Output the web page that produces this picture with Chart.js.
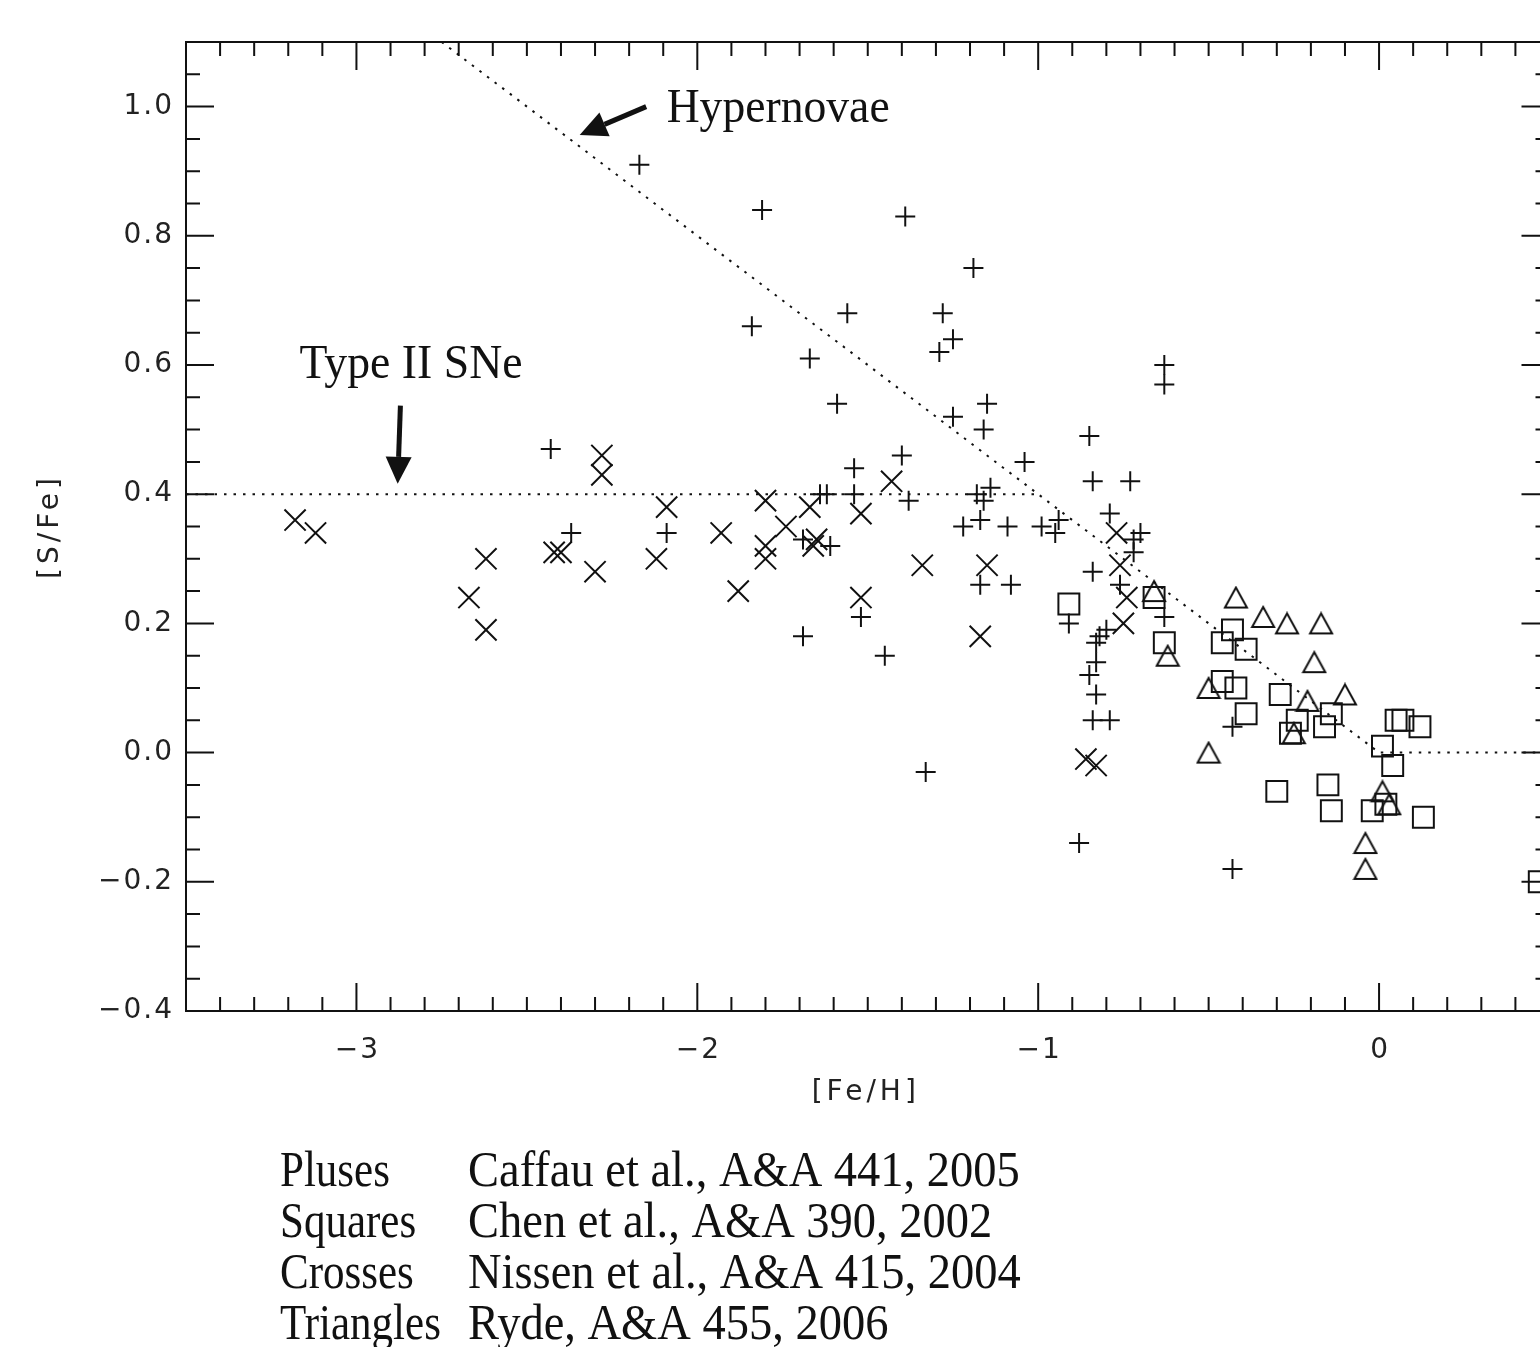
<!DOCTYPE html>
<html>
<head>
<meta charset="utf-8">
<script src="https://cdn.jsdelivr.net/npm/chart.js@4.4.1/dist/chart.umd.min.js"></script>
<style>
  html, body { margin: 0; padding: 0; background: #fff; overflow: hidden; }
  #wrap { position: relative; width: 1600px; height: 1347px; }
</style>
</head>
<body>
<div id="wrap"><canvas id="sfe-chart" width="1600" height="1347"></canvas></div>
<script>
// [S/Fe] vs [Fe/H] scatter, IDL-style frame with inward ticks

// [Fe/H], [S/Fe] pairs
const caffauPluses = [
  [-2.17, 0.91], [-1.81, 0.84], [-1.39, 0.83], [-1.19, 0.75], [-1.84, 0.66],
  [-1.56, 0.68], [-1.28, 0.68], [-1.25, 0.64], [-1.29, 0.62], [-1.67, 0.61],
  [-0.63, 0.60], [-0.63, 0.57], [-1.59, 0.54], [-1.15, 0.54], [-1.25, 0.52],
  [-1.16, 0.50], [-0.85, 0.49], [-1.04, 0.45], [-1.40, 0.46], [-1.54, 0.44],
  [-0.84, 0.42], [-0.73, 0.42], [-2.43, 0.47], [-1.64, 0.40], [-1.62, 0.40],
  [-1.54, 0.40], [-1.38, 0.39], [-1.18, 0.40], [-1.14, 0.41], [-1.16, 0.39],
  [-0.94, 0.36], [-0.95, 0.34], [-0.99, 0.35], [-1.09, 0.35], [-1.22, 0.35],
  [-1.17, 0.36], [-0.79, 0.37], [-0.70, 0.34], [-0.72, 0.33], [-0.72, 0.31],
  [-0.84, 0.28], [-0.76, 0.26], [-0.63, 0.21], [-0.91, 0.20], [-0.80, 0.19],
  [-0.82, 0.18], [-0.83, 0.17], [-0.83, 0.14], [-0.85, 0.12], [-0.83, 0.09],
  [-0.84, 0.05], [-0.79, 0.05], [-1.33, -0.03], [-0.88, -0.14], [-0.43, 0.04],
  [-0.43, -0.18], [-2.37, 0.34], [-2.09, 0.34], [-1.69, 0.33], [-1.61, 0.32],
  [-1.69, 0.18], [-1.52, 0.21], [-1.45, 0.15], [-1.17, 0.26], [-1.08, 0.26]
];

const chenSquares = [
  [-0.91, 0.23], [-0.66, 0.24], [-0.63, 0.17], [-0.43, 0.19], [-0.46, 0.17],
  [-0.39, 0.16], [-0.46, 0.11], [-0.42, 0.10], [-0.39, 0.06], [-0.29, 0.09],
  [-0.24, 0.05], [-0.26, 0.03], [-0.16, 0.04], [-0.14, 0.06], [0.01, 0.01],
  [0.04, -0.02], [0.05, 0.05], [0.07, 0.05], [0.12, 0.04], [-0.30, -0.06],
  [-0.15, -0.05], [-0.14, -0.09], [-0.02, -0.09], [0.02, -0.08], [0.13, -0.10],
  [0.47, -0.20]
];

const nissenCrosses = [
  [-3.18, 0.36], [-3.12, 0.34], [-2.28, 0.46], [-2.28, 0.43], [-2.09, 0.38],
  [-2.62, 0.30], [-2.67, 0.24], [-2.62, 0.19], [-2.42, 0.31], [-2.40, 0.31],
  [-2.30, 0.28], [-2.12, 0.30], [-1.93, 0.34], [-1.88, 0.25], [-1.80, 0.39],
  [-1.80, 0.32], [-1.80, 0.30], [-1.74, 0.35], [-1.67, 0.38], [-1.65, 0.33],
  [-1.66, 0.32], [-1.52, 0.37], [-1.43, 0.42], [-1.52, 0.24], [-1.34, 0.29],
  [-1.15, 0.29], [-1.17, 0.18], [-0.77, 0.34], [-0.76, 0.29], [-0.74, 0.24],
  [-0.75, 0.20], [-0.86, -0.01], [-0.83, -0.02]
];

const rydeTriangles = [
  [-0.66, 0.25], [-0.42, 0.24], [-0.34, 0.21], [-0.27, 0.20], [-0.17, 0.20],
  [-0.19, 0.14], [-0.62, 0.15], [-0.50, 0.10], [-0.21, 0.08], [-0.10, 0.09],
  [-0.25, 0.03], [-0.50, 0.00], [0.01, -0.06], [0.03, -0.08], [-0.04, -0.14],
  [-0.04, -0.18]
];

// dotted model lines
const hypernovaLine = [[-2.75, 1.1], [0, 0], [0.5, 0]];
const typeIILine = [[-3.5, 0.4], [-1.0, 0.4]];

// axes
const xRange = [-3.5, 0.5];
const yRange = [-0.4, 1.1];
const xTickValues = [-3, -2, -1, 0];
const yTickValues = [-0.4, -0.2, 0.0, 0.2, 0.4, 0.6, 0.8, 1.0];
const xTitle = "[Fe/H]";
const yTitle = "[S/Fe]";

// annotations (data coords)
const notes = [
  { text: "Hypernovae", x: -2.09, y: 0.976, from: [-2.15, 1.0], to: [-2.345, 0.956] },
  { text: "Type II SNe", x: -3.167, y: 0.58, from: [-2.871, 0.537], to: [-2.879, 0.416] }
];

const refRows = [
  ["Pluses", "Caffau et al., A&A 441, 2005"],
  ["Squares", "Chen et al., A&A 390, 2002"],
  ["Crosses", "Nissen et al., A&A 415, 2004"],
  ["Triangles", "Ryde, A&A 455, 2006"]
];

const ink = "#111";
const toPts = arr => arr.map(([x, y]) => ({ x, y }));
const minus = s => s.replace("-", "\u2212");

// open triangle sprite, centred on its bounding box like the IDL symbol
function triangleSprite() {
  const c = document.createElement("canvas");
  c.width = 26; c.height = 24;
  const g = c.getContext("2d");
  g.strokeStyle = ink;
  g.lineWidth = 2;
  g.beginPath();
  g.moveTo(2, 22); g.lineTo(13, 2); g.lineTo(24, 22);
  g.closePath();
  g.stroke();
  return c;
}

function arrow(ctx, x0, y0, x1, y1) {
  const ang = Math.atan2(y1 - y0, x1 - x0);
  const headLen = 27, headHalf = 13;
  const bx = x1 - Math.cos(ang) * headLen, by = y1 - Math.sin(ang) * headLen;
  ctx.lineWidth = 5;
  ctx.beginPath(); ctx.moveTo(x0, y0); ctx.lineTo(bx, by); ctx.stroke();
  ctx.beginPath();
  ctx.moveTo(x1, y1);
  ctx.lineTo(bx + Math.sin(ang) * headHalf, by - Math.cos(ang) * headHalf);
  ctx.lineTo(bx - Math.sin(ang) * headHalf, by + Math.cos(ang) * headHalf);
  ctx.closePath();
  ctx.fill();
}

// squeezed serif text (the original uses a narrow Garamond)
function narrowText(ctx, text, x, y, squeeze) {
  ctx.save();
  ctx.translate(x, y);
  ctx.scale(squeeze, 1);
  ctx.fillText(text, 0, 0);
  ctx.restore();
}

const framePlugin = {
  id: "frame",
  afterDraw(chart) {
    const { ctx, chartArea: a, scales: { x, y } } = chart;
    ctx.save();
    ctx.strokeStyle = ink;
    ctx.fillStyle = ink;
    ctx.lineWidth = 2;
    ctx.strokeRect(a.left, a.top, a.right - a.left, a.bottom - a.top);

    ctx.beginPath();
    // x ticks: minor every 0.1, major every 1
    for (let i = Math.round(xRange[0] * 10); i <= Math.round(xRange[1] * 10); i++) {
      const px = x.getPixelForValue(i / 10);
      const len = i % 10 === 0 ? 28 : 14;
      ctx.moveTo(px, a.bottom); ctx.lineTo(px, a.bottom - len);
      ctx.moveTo(px, a.top); ctx.lineTo(px, a.top + len);
    }
    // y ticks: minor every 0.05, major every 0.2
    for (let i = Math.round(yRange[0] * 20); i <= Math.round(yRange[1] * 20); i++) {
      const py = y.getPixelForValue(i / 20);
      const len = i % 4 === 0 ? 28 : 14;
      ctx.moveTo(a.left, py); ctx.lineTo(a.left + len, py);
      ctx.moveTo(a.right, py); ctx.lineTo(a.right - len, py);
    }
    ctx.stroke();

    // tick labels
    ctx.font = '28px "DejaVu Sans"';
    ctx.fillStyle = "#222";
    ctx.letterSpacing = "2px";
    ctx.textBaseline = "middle";
    ctx.textAlign = "right";
    yTickValues.forEach(v => {
      ctx.fillText(minus(v.toFixed(1)), a.left - 12, y.getPixelForValue(v));
    });
    ctx.textAlign = "center";
    xTickValues.forEach(v => {
      ctx.fillText(minus(String(v)), x.getPixelForValue(v) + 1, a.bottom + 40);
    });

    // axis titles
    ctx.letterSpacing = "4px";
    ctx.fillText(xTitle, (a.left + a.right) / 2 - 2, a.bottom + 82);
    ctx.save();
    ctx.translate(51, (a.top + a.bottom) / 2);
    ctx.rotate(-Math.PI / 2);
    ctx.fillText(yTitle, 0, 0);
    ctx.restore();
    ctx.letterSpacing = "0px";
    ctx.fillStyle = ink;

    // annotations
    ctx.font = '49px "Liberation Serif"';
    ctx.textAlign = "left";
    ctx.textBaseline = "alphabetic";
    notes.forEach(n => {
      ctx.fillText(n.text, x.getPixelForValue(n.x), y.getPixelForValue(n.y), 223);
      arrow(ctx,
        x.getPixelForValue(n.from[0]), y.getPixelForValue(n.from[1]),
        x.getPixelForValue(n.to[0]), y.getPixelForValue(n.to[1]));
    });

    // reference list under the plot
    ctx.font = '50px "Liberation Serif"';
    refRows.forEach(([shape, ref], i) => {
      const base = a.bottom + 175 + i * 51;
      narrowText(ctx, shape, 280, base, 0.86);
      narrowText(ctx, ref, 468, base, 0.93);
    });

    ctx.restore();
  }
};

const lineStyle = {
  showLine: true,
  borderColor: ink,
  borderWidth: 2,
  borderDash: [2.5, 7],
  pointRadius: 0,
  fill: false
};

const markStyle = {
  pointBorderColor: ink,
  pointBackgroundColor: "rgba(0,0,0,0)",
  pointBorderWidth: 2,
  showLine: false
};

new Chart(document.getElementById("sfe-chart"), {
  type: "scatter",
  data: {
    datasets: [
      { label: "Hypernovae", data: toPts(hypernovaLine), ...lineStyle },
      { label: "Type II SNe", data: toPts(typeIILine), ...lineStyle },
      { label: "Pluses", data: toPts(caffauPluses), ...markStyle, pointStyle: "cross", pointRadius: 10 },
      { label: "Squares", data: toPts(chenSquares), ...markStyle, pointStyle: "rect", pointRadius: 14.8 },
      { label: "Crosses", data: toPts(nissenCrosses), ...markStyle, pointStyle: "crossRot", pointRadius: 15 },
      { label: "Triangles", data: toPts(rydeTriangles), ...markStyle, pointStyle: triangleSprite(), pointRadius: 12 }
    ]
  },
  options: {
    responsive: false,
    animation: false,
    events: [],
    layout: { padding: { left: 186, top: 42, right: 50.5, bottom: 336 } },
    scales: {
      x: { type: "linear", min: xRange[0], max: xRange[1], display: false },
      y: { type: "linear", min: yRange[0], max: yRange[1], display: false }
    },
    plugins: {
      legend: { display: false },
      tooltip: { enabled: false }
    }
  },
  plugins: [framePlugin]
});
</script>
</body>
</html>
